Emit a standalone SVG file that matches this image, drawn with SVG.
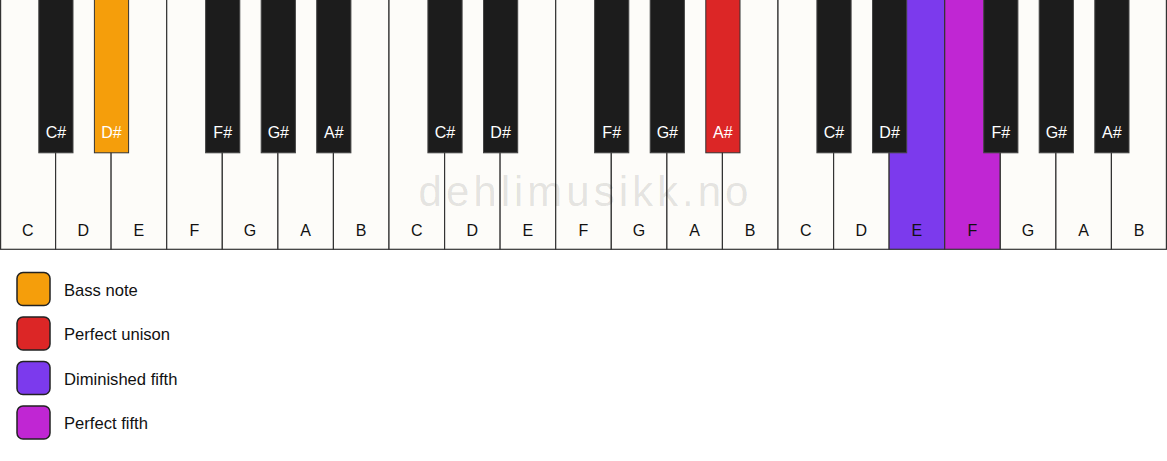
<svg xmlns="http://www.w3.org/2000/svg" width="1167" height="461" viewBox="0 0 1167 461">
<style>
.w{fill:#fdfcf9;stroke:#333;stroke-width:1.2}
.b{fill:#1c1c1c;stroke:#444;stroke-width:1}
.wl{font-family:"Liberation Sans",Arial,sans-serif;font-size:16px;fill:#111;text-anchor:middle}
.bl{font-family:"Liberation Sans",Arial,sans-serif;font-size:16px;fill:#fff;text-anchor:middle}
.lg{stroke:#222;stroke-width:1.5}
.lt{font-family:"Liberation Sans",Arial,sans-serif;font-size:16.6px;fill:#111}
.wm{font-family:"Liberation Sans",Arial,sans-serif;font-size:42px;fill:#000;fill-opacity:0.11;text-anchor:middle;letter-spacing:4px}
</style>
<rect width="1167" height="461" fill="#ffffff"/>
<g id="white-keys">
<g id="w0"><rect class="w" x="0.6" y="-1" width="55" height="250.3"/><text class="wl" x="27.8" y="236">C</text></g>
<g id="w1"><rect class="w" x="55.6" y="-1" width="55.6" height="250.3"/><text class="wl" x="83.4" y="236">D</text></g>
<g id="w2"><rect class="w" x="111.1" y="-1" width="55.6" height="250.3"/><text class="wl" x="138.9" y="236">E</text></g>
<g id="w3"><rect class="w" x="166.7" y="-1" width="55.6" height="250.3"/><text class="wl" x="194.5" y="236">F</text></g>
<g id="w4"><rect class="w" x="222.3" y="-1" width="55.6" height="250.3"/><text class="wl" x="250.1" y="236">G</text></g>
<g id="w5"><rect class="w" x="277.9" y="-1" width="55.6" height="250.3"/><text class="wl" x="305.7" y="236">A</text></g>
<g id="w6"><rect class="w" x="333.4" y="-1" width="55.6" height="250.3"/><text class="wl" x="361.2" y="236">B</text></g>
<g id="w7"><rect class="w" x="389" y="-1" width="55.6" height="250.3"/><text class="wl" x="416.8" y="236">C</text></g>
<g id="w8"><rect class="w" x="444.6" y="-1" width="55.6" height="250.3"/><text class="wl" x="472.4" y="236">D</text></g>
<g id="w9"><rect class="w" x="500.1" y="-1" width="55.6" height="250.3"/><text class="wl" x="527.9" y="236">E</text></g>
<g id="w10"><rect class="w" x="555.7" y="-1" width="55.6" height="250.3"/><text class="wl" x="583.5" y="236">F</text></g>
<g id="w11"><rect class="w" x="611.3" y="-1" width="55.6" height="250.3"/><text class="wl" x="639.1" y="236">G</text></g>
<g id="w12"><rect class="w" x="666.9" y="-1" width="55.6" height="250.3"/><text class="wl" x="694.7" y="236">A</text></g>
<g id="w13"><rect class="w" x="722.4" y="-1" width="55.6" height="250.3"/><text class="wl" x="750.2" y="236">B</text></g>
<g id="w14"><rect class="w" x="778" y="-1" width="55.6" height="250.3"/><text class="wl" x="805.8" y="236">C</text></g>
<g id="w15"><rect class="w" x="833.6" y="-1" width="55.6" height="250.3"/><text class="wl" x="861.4" y="236">D</text></g>
<g id="w16"><rect class="w" x="889.1" y="-1" width="55.6" height="250.3" style="fill:#7c3aed"/><text class="wl" x="916.9" y="236">E</text></g>
<g id="w17"><rect class="w" x="944.7" y="-1" width="55.6" height="250.3" style="fill:#c026d3"/><text class="wl" x="972.5" y="236">F</text></g>
<g id="w18"><rect class="w" x="1000.3" y="-1" width="55.6" height="250.3"/><text class="wl" x="1028.1" y="236">G</text></g>
<g id="w19"><rect class="w" x="1055.9" y="-1" width="55.6" height="250.3"/><text class="wl" x="1083.7" y="236">A</text></g>
<g id="w20"><rect class="w" x="1111.4" y="-1" width="55" height="250.3"/><text class="wl" x="1139.2" y="236">B</text></g>
</g>
<text id="watermark" class="wm" x="585.5" y="206">dehlimusikk.no</text>
<g id="black-keys">
<g id="b0"><rect class="b" x="38.8" y="-1" width="34.2" height="153.8"/><text class="bl" x="55.9" y="138">C#</text></g>
<g id="b1"><rect class="b" x="94.4" y="-1" width="34.2" height="153.8" style="fill:#f59e0b;stroke:#333"/><text class="bl" x="111.5" y="138">D#</text></g>
<g id="b2"><rect class="b" x="205.6" y="-1" width="34.2" height="153.8"/><text class="bl" x="222.7" y="138">F#</text></g>
<g id="b3"><rect class="b" x="261.2" y="-1" width="34.2" height="153.8"/><text class="bl" x="278.3" y="138">G#</text></g>
<g id="b4"><rect class="b" x="316.7" y="-1" width="34.2" height="153.8"/><text class="bl" x="333.8" y="138">A#</text></g>
<g id="b5"><rect class="b" x="427.9" y="-1" width="34.2" height="153.8"/><text class="bl" x="445" y="138">C#</text></g>
<g id="b6"><rect class="b" x="483.5" y="-1" width="34.2" height="153.8"/><text class="bl" x="500.6" y="138">D#</text></g>
<g id="b7"><rect class="b" x="594.6" y="-1" width="34.2" height="153.8"/><text class="bl" x="611.7" y="138">F#</text></g>
<g id="b8"><rect class="b" x="650.2" y="-1" width="34.2" height="153.8"/><text class="bl" x="667.3" y="138">G#</text></g>
<g id="b9"><rect class="b" x="705.8" y="-1" width="34.2" height="153.8" style="fill:#dc2626;stroke:#333"/><text class="bl" x="722.9" y="138">A#</text></g>
<g id="b10"><rect class="b" x="816.9" y="-1" width="34.2" height="153.8"/><text class="bl" x="834" y="138">C#</text></g>
<g id="b11"><rect class="b" x="872.5" y="-1" width="34.2" height="153.8"/><text class="bl" x="889.6" y="138">D#</text></g>
<g id="b12"><rect class="b" x="983.7" y="-1" width="34.2" height="153.8"/><text class="bl" x="1000.8" y="138">F#</text></g>
<g id="b13"><rect class="b" x="1039.2" y="-1" width="34.2" height="153.8"/><text class="bl" x="1056.3" y="138">G#</text></g>
<g id="b14"><rect class="b" x="1094.8" y="-1" width="34.2" height="153.8"/><text class="bl" x="1111.9" y="138">A#</text></g>
</g>
<g id="legend">
<g id="lg-bass"><rect class="lg" x="17" y="272.5" width="33" height="33" rx="6" fill="#f59e0b"/><text class="lt" x="64" y="295.5">Bass note</text></g>
<g id="lg-unison"><rect class="lg" x="17" y="317" width="33" height="33" rx="6" fill="#dc2626"/><text class="lt" x="64" y="340">Perfect unison</text></g>
<g id="lg-dim5"><rect class="lg" x="17" y="361.5" width="33" height="33" rx="6" fill="#7c3aed"/><text class="lt" x="64" y="384.5">Diminished fifth</text></g>
<g id="lg-p5"><rect class="lg" x="17" y="406" width="33" height="33" rx="6" fill="#c026d3"/><text class="lt" x="64" y="429">Perfect fifth</text></g>
</g>
<g id="connectors"/>
</svg>
